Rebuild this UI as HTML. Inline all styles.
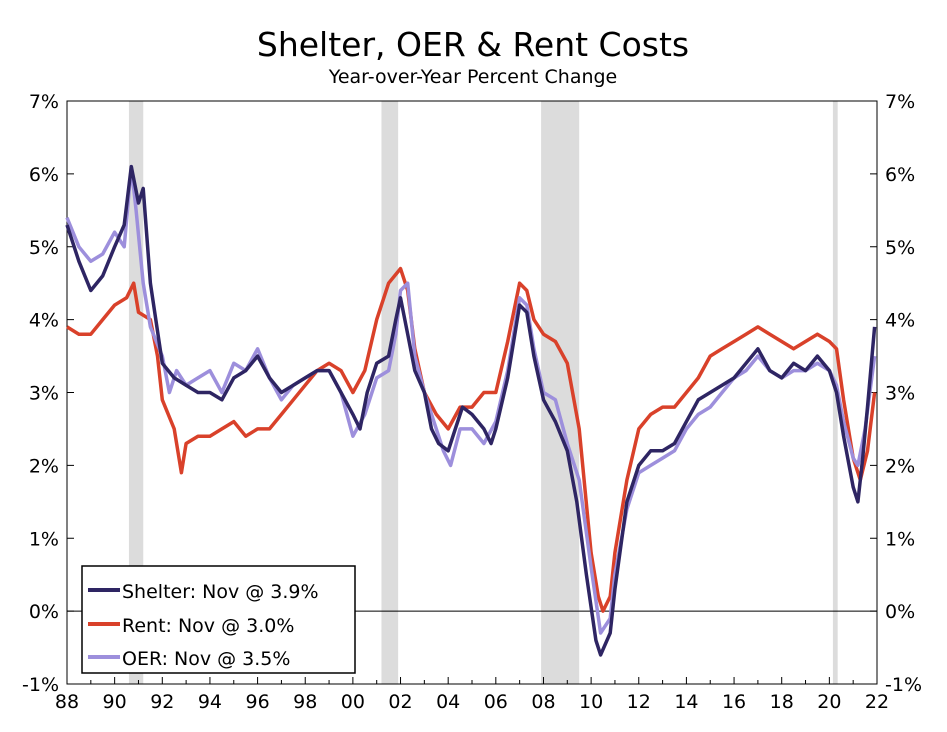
<!DOCTYPE html>
<html><head><meta charset="utf-8">
<style>
body{margin:0;background:#fff;font-family:"Liberation Sans","DejaVu Sans",sans-serif;}
svg text{font-family:"DejaVu Sans","Liberation Sans",sans-serif;}
</style></head>
<body>
<svg id="chart" width="947" height="727">
<text x="473" y="56" text-anchor="middle" font-size="33">Shelter, OER &amp; Rent Costs</text>
<text x="473" y="83" text-anchor="middle" font-size="19">Year-over-Year Percent Change</text>
<g id="rec"></g><g id="axes"></g><g id="lines"></g>
<g>
<rect x="82" y="566" width="273" height="107" fill="#fff" stroke="#000" stroke-width="1.5"/>
<line x1="88" y1="590" x2="120" y2="590" stroke="#2e2563" stroke-width="4"/>
<text x="122" y="598" font-size="19">Shelter: Nov @ 3.9%</text>
<line x1="88" y1="624" x2="120" y2="624" stroke="#d9412a" stroke-width="4"/>
<text x="122" y="632" font-size="19">Rent: Nov @ 3.0%</text>
<line x1="88" y1="657" x2="120" y2="657" stroke="#9d8fdc" stroke-width="4"/>
<text x="122" y="665" font-size="19">OER: Nov @ 3.5%</text>
</g>
</svg>
<script>
const recessions=[[1990.6,1991.2],[2001.2,2001.9],[2007.9,2009.5],[2020.15,2020.35]];
const yTicks=[-1,0,1,2,3,4,5,6,7];
const xTickYears=[1988,1990,1992,1994,1996,1998,2000,2002,2004,2006,2008,2010,2012,2014,2016,2018,2020,2022];
const xTickLabels=["88","90","92","94","96","98","00","02","04","06","08","10","12","14","16","18","20","22"];
const shelterT=[1988,1988.5,1989,1989.5,1990,1990.4,1990.7,1991,1991.2,1991.5,1992,1992.5,1993,1993.5,1994,1994.5,1995,1995.5,1996,1996.5,1997,1997.5,1998,1998.5,1999,1999.5,2000,2000.3,2000.6,2001,2001.5,2001.8,2002,2002.3,2002.6,2003,2003.3,2003.6,2004,2004.3,2004.6,2005,2005.5,2005.8,2006,2006.5,2007,2007.3,2007.6,2008,2008.5,2009,2009.4,2009.8,2010.2,2010.4,2010.8,2011,2011.5,2012,2012.5,2013,2013.5,2014,2014.5,2015,2015.5,2016,2016.5,2017,2017.5,2018,2018.5,2019,2019.5,2020,2020.3,2020.6,2021,2021.2,2021.4,2021.6,2021.9];
const shelterV=[5.3,4.8,4.4,4.6,5.0,5.3,6.1,5.6,5.8,4.5,3.4,3.2,3.1,3.0,3.0,2.9,3.2,3.3,3.5,3.2,3.0,3.1,3.2,3.3,3.3,3.0,2.7,2.5,3.0,3.4,3.5,4.0,4.3,3.8,3.3,3.0,2.5,2.3,2.2,2.5,2.8,2.7,2.5,2.3,2.5,3.2,4.2,4.1,3.5,2.9,2.6,2.2,1.5,0.5,-0.4,-0.6,-0.3,0.3,1.5,2.0,2.2,2.2,2.3,2.6,2.9,3.0,3.1,3.2,3.4,3.6,3.3,3.2,3.4,3.3,3.5,3.3,3.0,2.4,1.7,1.5,2.1,2.8,3.9];
const rentT=[1988,1988.5,1989,1989.5,1990,1990.5,1990.8,1991,1991.5,1991.8,1992,1992.5,1992.8,1993,1993.5,1994,1994.5,1995,1995.5,1996,1996.5,1997,1997.5,1998,1998.5,1999,1999.5,2000,2000.5,2001,2001.5,2002,2002.3,2002.6,2003,2003.5,2004,2004.5,2005,2005.5,2006,2006.5,2007,2007.3,2007.6,2008,2008.5,2009,2009.5,2010,2010.3,2010.5,2010.8,2011,2011.5,2012,2012.5,2013,2013.5,2014,2014.5,2015,2015.5,2016,2016.5,2017,2017.5,2018,2018.5,2019,2019.5,2020,2020.3,2020.6,2021,2021.3,2021.6,2021.9];
const rentV=[3.9,3.8,3.8,4.0,4.2,4.3,4.5,4.1,4.0,3.5,2.9,2.5,1.9,2.3,2.4,2.4,2.5,2.6,2.4,2.5,2.5,2.7,2.9,3.1,3.3,3.4,3.3,3.0,3.3,4.0,4.5,4.7,4.4,3.6,3.0,2.7,2.5,2.8,2.8,3.0,3.0,3.7,4.5,4.4,4.0,3.8,3.7,3.4,2.5,0.8,0.2,0.0,0.2,0.8,1.8,2.5,2.7,2.8,2.8,3.0,3.2,3.5,3.6,3.7,3.8,3.9,3.8,3.7,3.6,3.7,3.8,3.7,3.6,2.9,2.1,1.8,2.2,3.0];
const oerT=[1988,1988.5,1989,1989.5,1990,1990.4,1990.7,1990.9,1991.2,1991.5,1992,1992.3,1992.6,1993,1993.5,1994,1994.5,1995,1995.5,1996,1996.5,1997,1997.5,1998,1998.5,1999,1999.5,2000,2000.5,2001,2001.5,2001.8,2002,2002.3,2002.6,2003,2003.4,2003.8,2004.1,2004.5,2005,2005.5,2006,2006.5,2007,2007.3,2007.6,2008,2008.5,2009,2009.5,2010,2010.4,2010.8,2011,2011.5,2012,2012.5,2013,2013.5,2014,2014.5,2015,2015.5,2016,2016.5,2017,2017.5,2018,2018.5,2019,2019.5,2020,2020.3,2020.6,2021,2021.2,2021.5,2021.9];
const oerV=[5.4,5.0,4.8,4.9,5.2,5.0,6.1,5.5,4.5,3.9,3.5,3.0,3.3,3.1,3.2,3.3,3.0,3.4,3.3,3.6,3.2,2.9,3.1,3.2,3.3,3.3,3.0,2.4,2.7,3.2,3.3,3.8,4.4,4.5,3.5,3.0,2.6,2.2,2.0,2.5,2.5,2.3,2.6,3.3,4.3,4.2,3.6,3.0,2.9,2.3,1.8,0.6,-0.3,-0.1,0.5,1.4,1.9,2.0,2.1,2.2,2.5,2.7,2.8,3.0,3.2,3.3,3.5,3.3,3.2,3.3,3.3,3.4,3.3,3.1,2.6,2.1,2.0,2.5,3.5];

const NS="http://www.w3.org/2000/svg";
const L=67,R=877,T=101,B=684;
const x=t=>L+(t-1988)/(2022-1988)*(R-L);
const y=v=>B-(v+1)/8*(B-T);
function mk(tag,attrs,parent){const e=document.createElementNS(NS,tag);for(const k in attrs)e.setAttribute(k,attrs[k]);parent.appendChild(e);return e;}
const rec=document.getElementById('rec'),ax=document.getElementById('axes'),ln=document.getElementById('lines');
recessions.forEach(r=>{const e=mk('rect',{x:x(r[0]),y:T,width:x(r[1])-x(r[0]),height:B-T,fill:'#dcdcdc'},rec);

});
mk('rect',{x:L,y:T,width:R-L,height:B-T,fill:'none',stroke:'#000','stroke-width':1},ax);
mk('line',{x1:L,y1:y(0),x2:R,y2:y(0),stroke:'#000','stroke-width':1},ax);
yTicks.forEach(v=>{
mk('line',{x1:L,y1:y(v),x2:L+7,y2:y(v),stroke:'#000'},ax);
mk('line',{x1:R-7,y1:y(v),x2:R,y2:y(v),stroke:'#000'},ax);
const a=mk('text',{x:L-8,y:y(v)+7,'text-anchor':'end','font-size':19},ax);a.textContent=v+'%';


const b=mk('text',{x:R+8,y:y(v)+7,'text-anchor':'start','font-size':19},ax);b.textContent=v+'%';


});
for(let yr=1988;yr<=2022;yr++){mk('line',{x1:x(yr),y1:B,x2:x(yr),y2:B-(yr%2?4:7),stroke:'#000'},ax);}
xTickYears.forEach((yr,i)=>{const t=mk('text',{x:x(yr),y:B+24,'text-anchor':'middle','font-size':19},ax);t.textContent=xTickLabels[i];

});
function line(ts,vs,c,name){const d=ts.map((t,i)=>(i?'L':'M')+x(t).toFixed(1)+','+y(vs[i]).toFixed(1)).join('');
const p=mk('path',{d:d,fill:'none',stroke:c,'stroke-width':3.5,'stroke-linejoin':'round'},ln);

}
line(rentT,rentV,'#d9412a','rent-line');
line(oerT,oerV,'#9d8fdc','oer-line');
line(shelterT,shelterV,'#2e2563','shelter-line');
</script>
</body></html>
